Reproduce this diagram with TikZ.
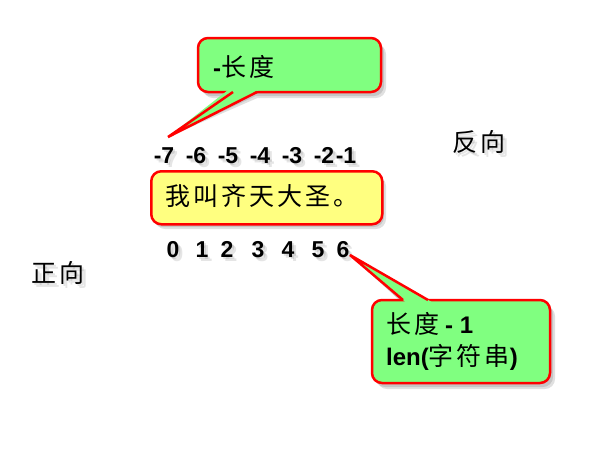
\documentclass[tikz,border=0pt]{standalone}
\usepackage{fontspec}
\setmainfont{Liberation Sans}
\newfontfamily\cjk{Noto Sans CJK SC}
\definecolor{calgreen}{HTML}{80FF80}
\definecolor{calyellow}{HTML}{FFFF80}
\tikzset{
  num/.style={font=\bfseries\fontsize{23}{23}\selectfont, inner sep=0pt, anchor=base},
  cn/.style={font=\cjk\mdseries\fontsize{25}{25}\selectfont, inner sep=0pt},
  bord/.style={draw=red, line width=2.5pt},
  shade1/.style={fill=black, opacity=.12},
  tshadow/.style={text=black, opacity=.10},
}
\newcommand{\cs}{\kern3pt}
\newcommand{\bnum}{\rmfamily\bfseries\fontsize{24}{24}\selectfont}
\newcommand{\ccn}{\cjk\mdseries\fontsize{25}{25}\selectfont}
\begin{document}
\begin{tikzpicture}[x=1pt,y=-1pt]
\useasboundingbox (0,0) rectangle (602,448);

% ---------- top callout ----------
\coordinate (tipA) at (168,137);
\foreach \d in {3,5}{
  \fill[shade1,shift={(\d,\d+1)}] [rounded corners=10pt] (198,38) rectangle (381,92)
    [sharp corners] (233,90) -- (tipA) -- (257,90) -- cycle;
}
\fill[calgreen] [rounded corners=10pt] (198,38) rectangle (381,92);
\draw[bord, rounded corners=10pt] (198,38) rectangle (381,92);
\fill[calgreen] (230.3,88.2) -- (tipA) -- (262.2,88.2) -- cycle;
\draw[bord] (233,92) -- (tipA) -- (257,92);
\node[anchor=west, inner sep=0pt] (ta) at (213,67)
  {\bnum -\ccn 长\cs 度};

% ---------- yellow box ----------
\foreach \d in {3,5}{
  \fill[shade1,rounded corners=10pt,shift={(\d,\d+1)}] (150,170) rectangle (381,223);
}
\node[bord, fill=calyellow, rounded corners=10pt, minimum width=231pt,
      minimum height=53pt, anchor=north west] (yb) at (150,170) {};
\node[cn, anchor=west] (ytxt) at (165,196) {我\cs 叫\cs 齐\cs 天\cs 大\cs 圣\cs 。};

% ---------- negative indices ----------
\foreach \x/\t/\n in {164/-7/m7,196/-6/m6,228/-5/m5,260/-4/m4,292/-3/m3,324/-2/m2,346/-1/m1}{
  \foreach \d in {2,4}{\node[num,tshadow] at (\x+\d,163+\d) {\t};}
  \node[num] (\n) at (\x,163) {\t};
}

% ---------- positive indices ----------
\foreach \x/\t/\n in {173/0/p0,202/1/p1,227/2/p2,258/3/p3,288/4/p4,318/5/p5,343/6/p6}{
  \foreach \d in {2,4}{\node[num,tshadow] at (\x+\d,257+\d) {\t};}
  \node[num] (\n) at (\x,257) {\t};
}

% ---------- bottom callout ----------
\coordinate (tipB) at (350,255);
\foreach \d in {3,5}{
  \fill[shade1,shift={(\d,\d+1)}] [rounded corners=10pt] (372,300) rectangle (550,383)
    [sharp corners] (403,302) -- (tipB) -- (428,302) -- cycle;
}
\fill[calgreen] [rounded corners=10pt] (372,300) rectangle (550,383);
\draw[bord, rounded corners=10pt] (372,300) rectangle (550,383);
\fill[calgreen] (406.5,303.0) -- (tipB) -- (433.4,303.0) -- cycle;
\draw[bord] (403,300) -- (tipB) -- (428,300);
\node[anchor=west, inner sep=0pt] (tb1) at (386,324)
  {\ccn 长\cs 度\kern6pt\bnum - 1};
\node[anchor=west, inner sep=0pt] (tb2) at (386,357)
  {\bnum len(\ccn 字\cs 符\cs 串\bnum )};

% ---------- direction labels ----------
\foreach \d in {2,4}{\node[cn,tshadow] at (58+\d,273+\d) {正\cs 向};}
\node[cn] (zx) at (58,273) {正\cs 向};
\foreach \d in {2,4}{\node[cn,tshadow] at (479+\d,142+\d) {反\cs 向};}
\node[cn] (fx) at (479,142) {反\cs 向};
\end{tikzpicture}
\end{document}
